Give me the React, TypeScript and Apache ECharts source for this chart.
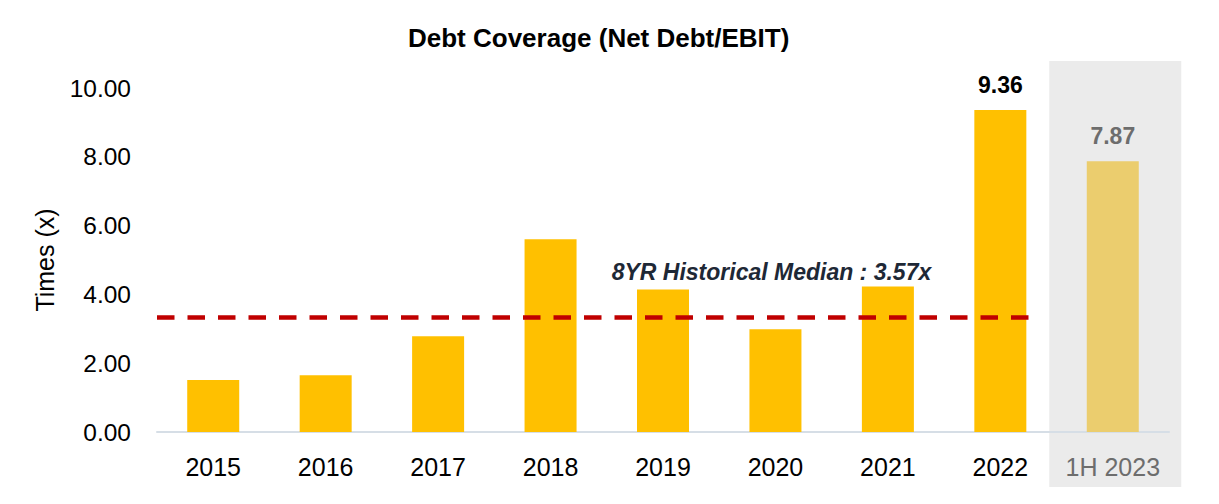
import React, { useEffect, useRef } from "react";
import * as echarts from "echarts";

const categories = ["2015", "2016", "2017", "2018", "2019", "2020", "2021", "2022", "1H 2023"];
const values = [1.51, 1.65, 2.78, 5.6, 4.14, 2.99, 4.23, 9.36, 7.87];
const labelledCategories = ["2022", "1H 2023"];
const highlightCategory = "1H 2023";
const medianValue = 3.33;
const medianText = "8YR Historical Median : 3.57x";
const medianLabelValue = 4.64;
const yMin = 0;
const yMax = 10;
const yInterval = 2;
const titleText = "Debt Coverage (Net Debt/EBIT)";
const yAxisName = "Times (x)";

const FONT = "Liberation Sans, Arial, Helvetica, sans-serif";

export default function App() {
  const ref = useRef<HTMLDivElement>(null);

  useEffect(() => {
    if (!ref.current) return;
    const chart = echarts.init(ref.current, undefined, { renderer: "svg" });

    const data = categories.map((c, i) => {
      const isHi = c === highlightCategory;
      return {
        value: values[i],
        itemStyle: { color: isHi ? "#EBCD6E" : "#FFC000" },
        label: {
          show: labelledCategories.includes(c),
          position: "top",
          distance: 14,
          fontFamily: FONT,
          fontSize: 23,
          fontWeight: "bold",
          color: isHi ? "#6D6D6D" : "#000000",
          formatter: (p: any) => Number(p.value).toFixed(2),
        },
      };
    });

    chart.setOption({
      animation: false,
      title: {
        text: titleText,
        left: 403,
        top: 20,
        textStyle: { fontFamily: FONT, fontSize: 26, fontWeight: "bold", color: "#000" },
      },
      grid: { left: 157, right: 50, top: 88, bottom: 72, containLabel: false },
      xAxis: {
        type: "category",
        data: categories,
        axisLine: { show: true, lineStyle: { color: "#D6DEE6", width: 2 } },
        axisTick: { show: false },
        axisLabel: {
          interval: 0,
          margin: 22,
          fontFamily: FONT,
          fontSize: 25,
          color: (v: string) => (v === highlightCategory ? "#6D6D6D" : "#000000"),
        },
      },
      yAxis: {
        type: "value",
        min: yMin,
        max: yMax,
        interval: yInterval,
        name: yAxisName,
        nameLocation: "middle",
        nameRotate: 90,
        nameGap: 100,
        nameTextStyle: { fontFamily: FONT, fontSize: 25, color: "#000" },
        axisLine: { show: false },
        axisTick: { show: false },
        splitLine: { show: false },
        axisLabel: {
          margin: 26,
          fontFamily: FONT,
          fontSize: 24.5,
          color: "#000",
          formatter: (v: number) => v.toFixed(2),
        },
      },
      series: [
        {
          type: "bar",
          data,
          barWidth: 52,
          z: 2,
        },
      ],
    });

    const p0 = chart.convertToPixel({ gridIndex: 0 }, [categories[0], medianValue]) as number[];
    const p1 = chart.convertToPixel({ gridIndex: 0 }, [categories[1], medianValue]) as number[];
    const band = p1[0] - p0[0];
    const pLast = chart.convertToPixel({ gridIndex: 0 }, ["2022", medianValue]) as number[];
    const pHi = chart.convertToPixel({ gridIndex: 0 }, [highlightCategory, yMin]) as number[];
    const pLbl = chart.convertToPixel({ gridIndex: 0 }, ["2020", medianLabelValue]) as number[];

    chart.setOption({
      graphic: [
        {
          type: "rect",
          z: -10,
          silent: true,
          shape: { x: pHi[0] - 63.5, y: 61, width: 132, height: 426 },
          style: { fill: "#EBEBEB" },
        },
        {
          type: "line",
          z: 10,
          silent: true,
          shape: { x1: p0[0] - band / 2, y1: p0[1], x2: pLast[0] + 29, y2: p0[1] },
          style: { stroke: "#C00000", lineWidth: 4.5, lineDash: [17.5, 13] },
        },
        {
          type: "text",
          z: 10,
          silent: true,
          x: pLbl[0] - 4,
          y: pLbl[1],
          style: {
            text: medianText,
            align: "center",
            verticalAlign: "middle",
            fontFamily: FONT,
            fontSize: 23,
            fontWeight: "bold",
            fontStyle: "italic",
            fill: "#1E2836",
          },
        },
      ],
    });

    return () => chart.dispose();
  }, []);

  return (
    <div
      ref={ref}
      style={{ position: "absolute", left: 0, top: 0, width: 1219, height: 504, background: "#fff" }}
    />
  );
}
